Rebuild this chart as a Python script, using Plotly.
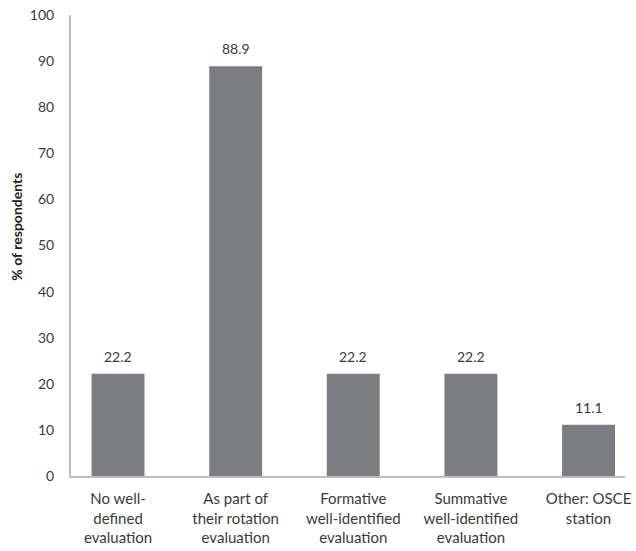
import plotly.graph_objects as go

categories = [
    "No well-<br>defined<br>evaluation",
    "As part of<br>their rotation<br>evaluation",
    "Formative<br>well-identified<br>evaluation",
    "Summative<br>well-identified<br>evaluation",
    "Other: OSCE<br>station",
]
values = [22.2, 88.9, 22.2, 22.2, 11.1]
y_ticks = [0, 10, 20, 30, 40, 50, 60, 70, 80, 90, 100]
y_title = "% of respondents"

FONT = "Lato, 'Open Sans', sans-serif"
TXT = "#3a3a3a"

fig = go.Figure()
fig.add_trace(go.Bar(
    x=categories, y=values,
    marker=dict(color="#7c7d81", line=dict(width=0)),
    width=0.45,
    hoverinfo="skip",
))

for c, v in zip(categories, values):
    fig.add_annotation(x=c, y=v, text=f"{v:.1f}", showarrow=False,
                       yanchor="bottom", yshift=7,
                       font=dict(family=FONT, size=14, color=TXT))

fig.add_annotation(xref="paper", yref="paper", x=-0.1, y=0.54,
                   text=f"<b>{y_title}</b>", textangle=-90, showarrow=False,
                   xanchor="center", yanchor="middle",
                   font=dict(family=FONT, size=14, color="#222222"))

fig.update_layout(
    width=636, height=551,
    margin=dict(l=71, r=11, t=15, b=75),
    plot_bgcolor="white", paper_bgcolor="white",
    showlegend=False,
    font=dict(family=FONT, size=14, color=TXT),
    xaxis=dict(
        range=[-0.40, 4.31], automargin=False,
        showline=True, linecolor="#bdbdbd", linewidth=2,
        ticks="", showgrid=False,
        tickfont=dict(family=FONT, size=15, color=TXT),
        ticklabelstandoff=8,
    ),
    yaxis=dict(
        range=[0, 100], tickvals=y_ticks, automargin=False,
        showline=True, linecolor="#bdbdbd", linewidth=2,
        ticks="", showgrid=False, zeroline=False,
        tickfont=dict(family=FONT, size=14, color=TXT),
        ticklabelstandoff=12,
    ),
)

fig.write_html(
    "out.html",
    config={"displayModeBar": False, "staticPlot": True},
    post_script="document.body.style.margin='0';document.body.style.padding='0';",
)
